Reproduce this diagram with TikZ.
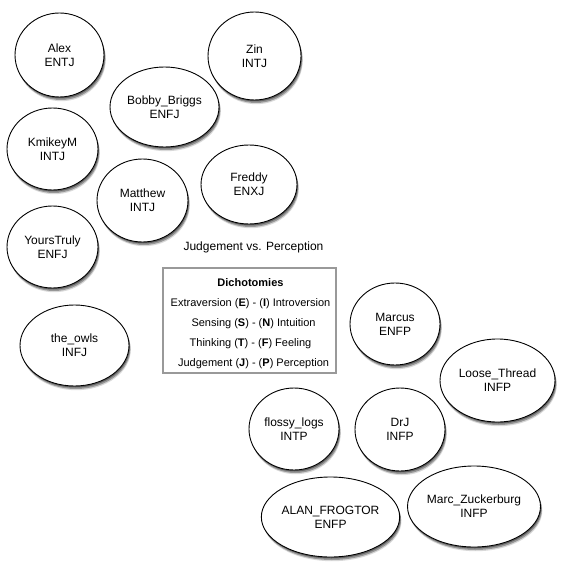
\documentclass[tikz,border=0pt]{standalone}
\usepackage{fontspec}
\setmainfont{Liberation Sans}
\usetikzlibrary{shapes.geometric,shadows}
\tikzset{
  person/.style={ellipse, draw=black, line width=0.9pt, fill=white, inner sep=0pt,
    align=center, font=\fontsize{12}{14}\selectfont,
    drop shadow={shadow xshift=0.8pt, shadow yshift=-1.5pt, opacity=0.35, fill=black},
    drop shadow={shadow xshift=1.4pt, shadow yshift=-3pt, opacity=0.3, fill=black},
    drop shadow={shadow xshift=1.8pt, shadow yshift=-4.2pt, opacity=0.15, fill=black}},
  legendbox/.style={rectangle, draw=black!40, line width=1.8pt, fill=white, inner sep=0pt},
  legendtext/.style={inner sep=0pt, align=center, font=\fontsize{11}{20}\selectfont},
  titletext/.style={font=\fontsize{12}{14}\selectfont, inner sep=0pt}
}
\begin{document}
\begin{tikzpicture}[x=1pt,y=-1pt]
\useasboundingbox[fill=white] (0,0) rectangle (563,569);
\node[person, minimum width=89pt, minimum height=84pt] (alex) at (59.5,55) {Alex\\ENTJ};
\node[person, minimum width=93pt, minimum height=88pt] (zin) at (254.5,56) {Zin\\INTJ};
\node[person, minimum width=109pt, minimum height=80pt] (bobby) at (164.5,107) {Bobby\_Briggs\\ENFJ};
\node[person, minimum width=91pt, minimum height=82pt] (kmikey) at (52.5,149) {KmikeyM\\INTJ};
\node[person, minimum width=91pt, minimum height=83pt] (matthew) at (142.5,200.5) {Matthew\\INTJ};
\node[person, minimum width=96pt, minimum height=79pt] (freddy) at (249,184.5) {Freddy\\ENXJ};
\node[person, minimum width=91pt, minimum height=82pt] (yours) at (52.5,247) {YoursTruly\\ENFJ};
\node[person, minimum width=109pt, minimum height=81pt] (owls) at (74.5,345.5) {the\_owls\\INFJ};
\node[person, minimum width=90pt, minimum height=82pt] (marcus) at (395,324) {Marcus\\ENFP};
\node[person, minimum width=115pt, minimum height=83pt] (loose) at (497.5,380.5) {Loose\_Thread\\INFP};
\node[person, minimum width=90pt, minimum height=82pt] (flossy) at (294,429) {flossy\_logs\\INTP};
\node[person, minimum width=90pt, minimum height=83pt] (drj) at (400,429.5) {DrJ\\INFP};
\node[person, minimum width=135pt, minimum height=80pt] (alan) at (330.5,517) {ALAN\_FROGTOR\\ENFP};
\node[person, minimum width=132pt, minimum height=81pt] (marc) at (474,506.5) {Marc\_Zuckerburg\\INFP};
\node[titletext] (title) at (253.5,247) {Judgement vs. Perception};
\node[legendbox, minimum width=173pt, minimum height=105pt] (legend) at (249.5,320.5) {};
\node[legendtext] (legendlines) at (250.5,324) {\textbf{Dichotomies}\\
   Extraversion (\textbf{E}) - (\textbf{I}) Introversion\\
   \ \ Sensing (\textbf{S}) - (\textbf{N}) Intuition\\
   Thinking (\textbf{T}) - (\textbf{F}) Feeling\\
   \ \ Judgement (\textbf{J}) - (\textbf{P}) Perception};
\end{tikzpicture}
\end{document}
